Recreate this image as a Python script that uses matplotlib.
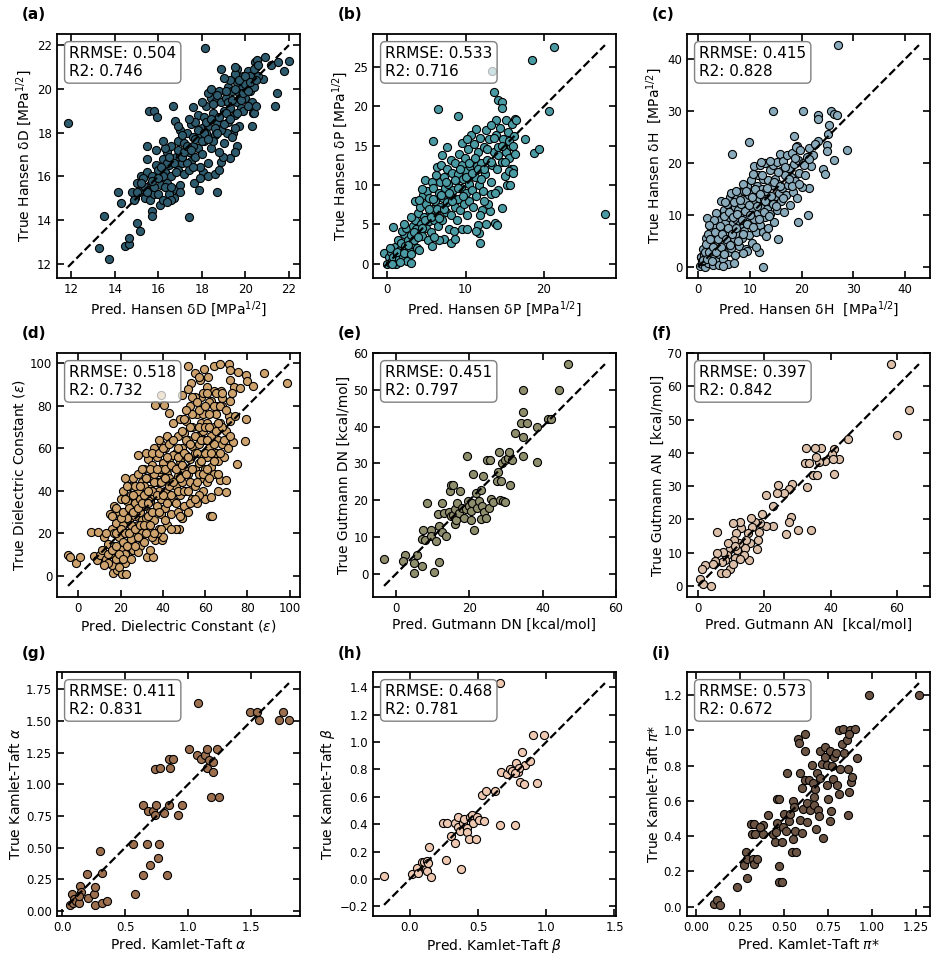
import numpy as np
import matplotlib
matplotlib.use('Agg')
import matplotlib.pyplot as plt

# (pred, true) pairs, one list per panel
hansen_d = [
    (11.85, 18.45), (13.27, 12.73), (13.5, 14.2), (13.72, 12.19), (14.15, 15.28), (14.3, 14.77),
    (14.47, 12.8), (14.63, 12.88), (14.66, 13.19), (14.92, 15.0), (14.81, 15.28), (15.03, 13.84),
    (15.15, 13.5), (15.55, 18.98), (15.8, 18.98), (15.92, 18.72), (15.49, 17.36), (15.46, 16.78),
    (15.73, 14.43), (15.7, 14.2), (16.07, 14.7), (17.42, 14.12), (18.13, 21.85), (16.76, 18.52),
    (16.68, 19.2), (17.57, 19.19), (17.65, 15.7), (17.85, 15.38), (18.04, 16.17), (18.3, 16.0),
    (18.6, 16.1), (18.68, 15.3), (18.9, 20.89), (18.9, 16.64), (19.6, 20.89), (19.52, 20.69),
    (20.45, 21.23), (20.52, 21.3), (20.9, 21.45), (20.83, 20.45), (21.17, 21.07), (21.48, 21.23),
    (22.0, 21.26), (21.78, 20.8), (21.45, 19.8), (21.37, 19.22), (20.37, 18.91), (20.22, 19.22),
    (20.3, 20.76), (19.6, 17.36), (19.3, 16.82), (18.96, 16.9), (19.45, 17.98), (19.14, 18.0),
    (15.1, 15.3), (15.2, 16.0), (15.3, 15.4), (15.4, 15.0), (15.5, 16.2), (15.6, 15.6), (15.6, 14.9),
    (15.8, 15.2), (15.9, 15.9), (15.9, 16.5), (15.3, 15.9), (15.7, 16.0), (16.0, 15.2), (16.0, 16.3),
    (16.1, 15.6), (16.2, 14.9), (16.2, 16.8), (15.0, 15.7), (15.4, 15.5), (15.8, 15.5),
    (16.3, 16.2), (16.4, 15.7), (16.4, 17.1), (16.5, 16.5), (16.6, 16.0), (16.6, 17.4), (16.7, 15.0),
    (16.8, 16.9), (16.8, 15.4), (16.9, 17.6), (16.9, 16.3), (17.0, 17.0), (16.3, 17.3), (16.5, 15.2),
    (16.6, 14.9), (16.7, 16.6), (17.0, 15.6), (17.0, 18.1), (16.2, 16.0), (16.4, 16.6),
    (17.1, 16.6), (17.2, 17.5), (17.2, 16.1), (17.3, 18.0), (17.4, 17.1), (17.5, 16.7), (17.5, 18.4),
    (17.6, 17.8), (17.7, 16.9), (17.8, 18.8), (17.8, 17.3), (17.9, 16.4), (18.0, 18.2), (17.3, 16.6),
    (17.6, 17.4), (17.9, 17.8), (17.1, 17.9), (17.4, 16.3), (17.7, 18.5), (18.0, 17.0),
    (18.1, 18.7), (18.1, 17.6), (18.2, 19.2), (18.3, 18.3), (18.4, 17.3), (18.4, 19.6), (18.5, 18.9),
    (18.6, 17.9), (18.6, 19.4), (18.7, 18.5), (18.8, 17.1), (18.8, 19.9), (18.9, 18.1), (19.0, 19.0),
    (19.0, 17.5), (18.2, 18.0), (18.5, 17.6), (18.7, 19.7), (18.3, 19.8), (18.9, 19.4),
    (19.1, 19.6), (19.2, 18.5), (19.2, 20.1), (19.3, 19.1), (19.4, 17.8), (19.4, 19.9), (19.5, 18.8),
    (19.6, 20.3), (19.6, 19.4), (19.7, 18.3), (19.8, 20.0), (19.8, 19.1), (19.9, 20.6), (20.0, 19.6),
    (20.0, 20.2), (19.3, 20.4), (19.5, 18.2), (19.7, 19.8), (19.9, 19.0), (19.1, 18.9),
    (20.1, 20.8), (20.2, 19.9), (20.3, 20.5), (20.3, 19.4), (20.4, 20.1), (20.4, 18.9), (20.5, 21.0),
    (20.2, 20.6), (20.6, 20.6), (20.1, 19.2),
    (15.2, 15.7), (15.5, 15.3), (15.7, 15.8), (16.0, 15.9), (16.1, 16.4), (16.3, 15.5), (16.5, 16.9),
    (16.6, 15.5), (16.8, 16.2), (16.9, 17.2), (17.1, 16.9), (17.2, 17.1), (17.3, 17.4), (17.5, 17.2),
    (17.6, 16.4), (17.7, 17.7), (17.8, 18.1), (18.0, 17.6), (18.1, 18.0), (18.2, 18.5), (18.3, 17.7),
    (18.4, 18.6), (18.5, 19.3), (18.6, 18.2), (18.7, 18.0), (18.8, 18.7), (19.0, 18.4), (19.1, 19.9),
    (19.2, 19.4), (19.3, 18.6), (19.4, 19.5), (19.5, 20.0), (19.6, 18.9), (19.7, 20.4), (19.8, 19.5),
    (19.9, 19.8), (20.0, 20.6), (20.1, 19.9), (20.2, 20.3), (20.4, 20.9), (20.5, 20.4), (20.6, 21.1),
    (15.9, 17.2), (16.2, 17.6), (16.9, 18.3), (17.4, 18.6), (18.0, 19.4), (18.4, 20.0), (19.0, 20.5),
    (19.5, 21.0), (16.4, 14.8), (17.0, 15.3), (17.9, 15.9), (18.3, 16.6), (18.8, 16.3), (19.5, 17.1),
    (20.3, 18.3), (20.5, 19.2), (15.0, 15.3), (14.9, 14.9),
]

hansen_p = [
    (13.4, 24.45), (18.5, 25.85), (21.3, 27.6), (6.5, 19.7), (9.0, 18.8), (5.8, 15.55), (7.7, 14.9),
    (13.7, 21.8), (14.1, 20.8), (14.6, 20.6), (14.7, 19.8), (15.2, 18.3), (16.3, 18.35), (13.9, 18.3),
    (17.6, 15.9), (18.8, 14.1), (19.4, 14.6), (20.6, 19.4), (27.8, 6.3), (14.6, 7.1), (13.8, 5.2),
    (14.0, 4.9), (11.6, 4.9), (11.7, 3.9), (11.8, 2.7), (11.3, 4.2), (15.3, 10.0), (15.7, 10.0),
    (15.8, 12.1), (14.1, 9.4), (13.2, 8.9), (12.1, 6.8), (13.1, 6.7), (12.6, 5.1), (4.8, 10.6),
    (5.7, 10.4), (0.8, 4.7), (-0.4, 1.4),
    (0.0, 0.0), (0.2, 0.8), (0.3, 0.1), (0.5, 1.5), (0.6, 0.3), (0.8, 0.9), (1.0, 2.1), (1.1, 0.0),
    (1.2, 1.2), (1.4, 3.0), (1.5, 0.6), (1.6, 1.8), (1.8, 2.6), (2.0, 1.0), (2.1, 3.8), (2.3, 2.2),
    (2.5, 0.3), (2.6, 3.0), (2.8, 1.7), (3.0, 3.6), (3.0, 0.1), (0.4, 2.0), (1.9, 4.2), (2.4, 4.5),
    (3.2, 2.5),
    (3.3, 4.8), (3.4, 3.0), (3.5, 8.0), (3.6, 5.6), (3.8, 2.0), (3.9, 6.4), (4.0, 4.0), (4.2, 7.2),
    (4.3, 5.0), (4.5, 3.5), (4.6, 8.8), (4.7, 6.0), (4.9, 4.6), (5.0, 7.6), (5.1, 9.2), (5.2, 3.0),
    (5.3, 5.4), (5.4, 8.4), (5.5, 6.6), (5.6, 4.0), (5.8, 7.0), (5.9, 9.6), (6.0, 5.6), (4.1, 8.1),
    (5.7, 2.2), (3.7, 4.4), (4.4, 9.5),
    (6.1, 8.0), (6.2, 11.3), (6.3, 6.2), (6.4, 12.3), (6.5, 4.8), (6.6, 9.0), (6.7, 7.2), (6.8, 10.4),
    (6.9, 12.6), (7.0, 5.6), (7.1, 8.4), (7.2, 11.0), (7.3, 3.2), (7.4, 9.6), (7.5, 6.6), (7.6, 12.0),
    (7.7, 7.8), (7.8, 10.2), (7.9, 4.4), (8.0, 8.8), (8.1, 13.2), (8.2, 6.2), (8.3, 11.6), (8.4, 9.4),
    (8.5, 4.2), (8.6, 7.2), (8.7, 12.8), (8.8, 10.6), (8.9, 5.6), (9.0, 8.2), (6.6, 3.0), (7.0, 13.8),
    (8.2, 2.6),
    (9.1, 11.4), (9.2, 14.0), (9.3, 6.8), (9.4, 9.6), (9.5, 12.6), (9.6, 4.4), (9.7, 10.8), (9.8, 7.6),
    (9.9, 13.4), (10.0, 9.0), (10.1, 11.8), (10.2, 6.2), (10.3, 14.6), (10.4, 10.2), (10.5, 8.0),
    (10.6, 12.4), (10.7, 16.4), (10.8, 9.4), (10.9, 13.0), (11.0, 7.2), (11.1, 15.2), (11.2, 11.0),
    (11.3, 17.1), (11.4, 8.6), (11.5, 12.4), (11.6, 14.2), (11.7, 10.0), (11.8, 6.2), (11.9, 16.0),
    (12.0, 12.8), (9.5, 15.3), (10.2, 15.8),
    (12.2, 9.2), (12.3, 14.8), (12.5, 11.4), (12.6, 17.0), (12.8, 13.2), (12.9, 7.6), (13.0, 15.8),
    (13.2, 10.4), (13.3, 17.6), (13.4, 12.6), (13.6, 14.2), (13.8, 9.0), (13.9, 16.4), (14.0, 12.0),
    (14.2, 14.9), (14.4, 17.2), (14.6, 13.0), (14.8, 15.8), (15.0, 11.2), (15.2, 14.2), (15.4, 16.8),
    (15.6, 13.4), (15.8, 15.0), (16.0, 12.0), (16.2, 16.2), (16.3, 14.0), (15.9, 17.8), (16.4, 18.3),
    (15.5, 11.8), (16.1, 11.6),
    (0.6, 0.0), (1.3, 1.5), (1.7, 0.2), (2.2, 1.4), (2.7, 2.4), (3.1, 1.2), (3.4, 4.0), (3.9, 3.4),
    (4.4, 4.6), (4.8, 5.6), (5.3, 7.0), (5.6, 6.0), (5.9, 8.2), (6.3, 7.0), (6.6, 5.8), (6.9, 8.8),
    (7.2, 7.0), (7.5, 10.4), (7.9, 9.0), (8.3, 8.0), (8.6, 10.6), (9.0, 9.6), (9.3, 12.0), (9.7, 8.6),
    (10.0, 11.0), (10.4, 12.8), (10.8, 11.6), (11.2, 13.4), (11.6, 12.0), (12.0, 10.8), (12.4, 12.0),
    (12.8, 14.6), (13.3, 13.0), (13.7, 16.0), (14.2, 13.8), (14.6, 15.0), (15.1, 13.0), (15.6, 15.6),
    (16.1, 15.0), (3.0, 6.0), (2.2, 5.0), (4.0, 1.8), (6.0, 3.4), (8.6, 3.2), (10.2, 4.4), (12.4, 8.0),
]

hansen_h = [
    (27.1, 42.7), (14.4, 30.1), (20.2, 30.0), (9.9, 24.0), (6.5, 21.8), (25.7, 30.0), (26.2, 29.4),
    (26.8, 29.2), (23.2, 29.2), (23.1, 28.4), (28.7, 22.5), (26.3, 20.5), (24.1, 18.8), (24.6, 17.9),
    (21.4, 15.1), (21.2, 10.0), (19.4, 8.7), (12.5, 0.0), (15.5, 5.3), (11.7, 2.9), (25.4, 27.4),
    (25.1, 25.5), (24.9, 23.4), (23.1, 24.2), (25.0, 22.3), (18.6, 25.2), (19.2, 23.2), (1.8, 9.4),
    (1.5, 1.3), (0.6, 1.9),
    (0.3, 0.2), (0.5, 2.0), (0.8, 0.5), (1.0, 3.4), (1.2, 1.1), (1.4, 0.0), (1.5, 5.6), (1.7, 2.6),
    (1.9, 0.7), (2.1, 4.2), (2.3, 1.8), (2.5, 7.4), (2.6, 3.2), (2.8, 0.3), (3.0, 5.0), (3.1, 2.0),
    (3.3, 8.0), (3.4, 3.8), (3.6, 1.1), (3.7, 6.2), (3.9, 4.6), (4.0, 0.4), (4.1, 2.5), (2.0, 6.4),
    (1.1, 2.2), (3.5, 10.4), (0.7, 1.1),
    (4.3, 9.0), (4.4, 5.6), (4.6, 3.2), (4.8, 7.4), (4.9, 1.5), (5.0, 11.0), (5.2, 4.6), (5.3, 8.4),
    (5.5, 6.2), (5.6, 12.2), (5.7, 2.8), (5.9, 9.6), (6.0, 5.2), (6.1, 13.4), (6.3, 7.4), (6.4, 3.6),
    (6.5, 10.8), (6.7, 8.4), (6.8, 14.0), (6.9, 5.6), (7.1, 11.6), (7.2, 2.2), (7.4, 9.2), (7.5, 13.4),
    (7.6, 6.4), (7.8, 11.0), (7.9, 4.0), (8.0, 14.4), (4.5, 12.6), (5.8, 0.6), (7.0, 0.8),
    (8.2, 8.2), (8.3, 12.2), (8.5, 5.6), (8.6, 10.2), (8.8, 14.6), (8.9, 7.0), (9.0, 12.8), (9.2, 3.4),
    (9.3, 9.4), (9.5, 15.6), (9.6, 11.4), (9.8, 6.2), (9.9, 13.8), (10.0, 8.4), (10.2, 16.8),
    (10.3, 11.0), (10.5, 4.6), (10.6, 14.2), (10.8, 9.2), (10.9, 19.4), (11.0, 12.6), (11.2, 6.8),
    (11.3, 15.6), (11.5, 10.4), (11.6, 17.6), (11.8, 13.2), (11.9, 8.0), (12.0, 19.6), (8.7, 16.0),
    (9.5, 3.0),
    (12.2, 11.4), (12.3, 15.0), (12.5, 6.8), (12.6, 17.0), (12.8, 13.0), (12.9, 9.6), (13.0, 20.0),
    (13.2, 14.6), (13.3, 11.2), (13.5, 16.8), (13.6, 7.4), (13.8, 13.2), (13.9, 18.6), (14.0, 10.2),
    (14.2, 15.8), (14.4, 12.2), (14.5, 19.6), (14.7, 8.6), (14.8, 17.0), (15.0, 13.6), (15.2, 20.2),
    (15.3, 11.0), (15.5, 16.0), (15.7, 14.2), (15.8, 21.8), (16.0, 12.6), (16.0, 18.4),
    (16.3, 15.2), (16.5, 20.4), (16.6, 10.6), (16.8, 17.6), (17.0, 13.8), (17.2, 21.6), (17.4, 15.8),
    (17.6, 19.0), (17.8, 12.0), (18.0, 17.4), (18.2, 22.0), (18.3, 14.4), (18.5, 19.8), (18.8, 16.6),
    (19.0, 23.0), (19.2, 13.2), (19.4, 20.6), (19.6, 18.0), (19.8, 22.6), (20.0, 15.4), (20.3, 20.0),
    (20.6, 17.6), (21.0, 21.2), (21.4, 22.8), (21.8, 19.4), (22.2, 21.6), (22.6, 23.6),
    (0.9, 1.4), (1.3, 2.8), (1.6, 4.4), (1.8, 1.5), (2.2, 2.9), (2.4, 5.3), (2.7, 1.2), (2.9, 3.9),
    (3.2, 6.8), (3.5, 2.9), (3.8, 5.4), (4.2, 7.9), (4.4, 3.9), (4.7, 6.3), (5.0, 2.4), (5.1, 9.8),
    (5.4, 5.4), (5.7, 7.5), (6.0, 10.6), (6.2, 4.2), (6.5, 6.4), (6.8, 9.6), (7.0, 12.4), (7.3, 7.4),
    (7.6, 10.2), (7.8, 5.0), (8.1, 12.8), (8.4, 9.0), (8.7, 6.4), (9.0, 10.8), (9.2, 14.6), (9.5, 8.2),
    (9.8, 12.0), (10.1, 10.0), (10.4, 13.4), (10.7, 7.6), (11.0, 15.0), (11.4, 11.8), (11.7, 9.2),
    (12.0, 14.0), (12.4, 17.6), (12.7, 10.6), (13.0, 12.6), (13.4, 15.2), (13.7, 9.8), (14.1, 13.6),
    (14.6, 16.4), (15.0, 11.8), (15.4, 18.2), (15.9, 15.6), (16.4, 13.2), (16.9, 19.2), (17.5, 17.0),
    (18.1, 15.6), (18.7, 21.0), (19.5, 16.0), (20.5, 19.6), (21.5, 20.8), (6.3, 14.2), (7.3, 14.6),
    (5.2, 12.4), (3.0, 9.0), (2.2, 8.0), (10.6, 17.8), (12.2, 20.2), (14.0, 20.4), (4.8, 0.2),
    (8.6, 2.6), (11.2, 3.9), (13.2, 6.0),
]

dielectric = [
    (-4.9, 9.8), (-3.8, 8.7), (-1.0, 6.0), (0.6, 8.7), (6.2, 20.6), (9.4, 20.6), (7.3, 9.2), (8.6, 7.4),
    (10.0, 9.8), (16.5, 1.3), (18.1, 2.7), (20.8, 0.5), (22.5, 0.5), (22.1, 6.0), (22.9, 9.5),
    (28.4, 57.0), (32.4, 8.7), (35.2, 8.7), (36.3, 16.6), (39.5, 16.6), (39.2, 85.0), (49.0, 85.0),
    (36.3, 80.2), (40.3, 80.2), (42.7, 76.7), (47.8, 21.8), (49.0, 26.9), (51.9, 98.9), (62.2, 28.2),
    (63.3, 28.2), (69.7, 39.6), (75.2, 52.7), (78.7, 63.6), (79.2, 73.6), (64.1, 98.9), (66.9, 99.7),
    (71.4, 99.7), (71.7, 97.0), (75.6, 96.2), (79.2, 94.5), (80.0, 91.8), (82.7, 89.4), (87.9, 95.4),
    (99.0, 91.0), (72.0, 92.4), (73.7, 88.9), (76.5, 88.6), (72.9, 86.2), (72.0, 82.3), (71.4, 75.2),
    (67.3, 87.0), (68.1, 83.9), (65.4, 79.9), (63.0, 82.3), (64.1, 87.0), (60.9, 89.1), (57.8, 92.0),
    (55.4, 95.7), (59.4, 97.3), (57.0, 93.4), (53.5, 91.0), (61.6, 93.4),
    (11, 12), (12, 18), (13, 8), (14, 15), (15, 29), (15, 10), (16, 22), (16, 5), (17, 33), (17, 14),
    (18, 25), (18, 8), (19, 18), (19, 30), (20, 12), (20, 36), (13, 20), (14, 6), (17, 20), (19, 4),
    (21, 24), (21, 40), (21, 16), (22, 30), (22, 10), (23, 35), (23, 20), (24, 42), (24, 26), (24, 14),
    (25, 31), (25, 38), (26, 22), (26, 46), (26, 12), (27, 28), (27, 34), (27, 18), (28, 40), (28, 24),
    (28, 48), (29, 30), (29, 14), (29, 36), (30, 44), (30, 20), (30, 26), (22, 46), (25, 17), (28, 11),
    (23, 27), (27, 42),
    (31, 33), (31, 50), (31, 16), (32, 39), (32, 27), (33, 46), (33, 22), (33, 55), (34, 35), (34, 41),
    (34, 30), (35, 52), (35, 18), (35, 47), (36, 38), (36, 60), (36, 26), (37, 44), (37, 33), (37, 56),
    (38, 49), (38, 22), (38, 40), (39, 62), (39, 36), (39, 29), (40, 53), (40, 45), (40, 18), (31, 42),
    (32, 58), (34, 12), (36, 48), (38, 64), (33, 28), (35, 40), (37, 20), (39, 50),
    (41, 40), (41, 60), (41, 32), (42, 48), (42, 66), (42, 24), (43, 55), (43, 37), (44, 44), (44, 63),
    (44, 29), (45, 51), (45, 72), (45, 35), (46, 58), (46, 42), (46, 22), (47, 47), (47, 66), (47, 30),
    (48, 54), (48, 38), (48, 74), (49, 60), (49, 44), (50, 50), (50, 33), (50, 67), (43, 46), (45, 57),
    (47, 56), (49, 27), (41, 50), (44, 38),
    (51, 57), (51, 40), (51, 73), (52, 48), (52, 64), (52, 30), (53, 55), (53, 80), (53, 44), (54, 61),
    (54, 36), (54, 70), (55, 50), (55, 58), (55, 42), (56, 66), (56, 76), (56, 34), (57, 53), (57, 62),
    (58, 46), (58, 72), (58, 84), (59, 57), (59, 40), (60, 64), (60, 50), (60, 36), (52, 88), (55, 84),
    (57, 38), (59, 68),
    (61, 56), (61, 72), (61, 44), (62, 60), (62, 82), (63, 51), (63, 66), (64, 70), (64, 48), (65, 58),
    (65, 76), (66, 54), (66, 64), (67, 72), (67, 45), (68, 62), (68, 80), (69, 56), (70, 68), (72, 73),
    (73, 63), (74, 75), (63, 37), (66, 40), (70, 45),
    (12, 5), (14, 10), (16, 12), (16, 28), (18, 14), (18, 20), (18, 32), (19, 10), (20, 22), (20, 27),
    (21, 8), (21, 30), (22, 20), (22, 36), (23, 14), (23, 42), (24, 20), (24, 32), (25, 24), (25, 8),
    (26, 30), (26, 38), (27, 14), (27, 22), (28, 32), (28, 18), (29, 42), (29, 24), (30, 34), (30, 50),
    (31, 24), (31, 38), (32, 20), (32, 46), (33, 34), (33, 40), (34, 24), (34, 50), (35, 30), (35, 58),
    (36, 20), (36, 44), (37, 38), (37, 50), (38, 30), (38, 58), (39, 44), (39, 22), (40, 38), (40, 60),
    (41, 26), (41, 46), (42, 34), (42, 56), (43, 42), (43, 62), (44, 52), (44, 22), (45, 44), (45, 64),
    (46, 34), (46, 50), (47, 40), (47, 60), (48, 46), (48, 28), (49, 52), (49, 68), (50, 40), (50, 58),
    (51, 48), (51, 64), (52, 40), (52, 56), (53, 62), (53, 34), (54, 50), (54, 76), (55, 66), (55, 36),
    (56, 44), (56, 58), (57, 70), (57, 48), (58, 54), (58, 64), (59, 48), (59, 76), (60, 58), (60, 70),
    (61, 50), (61, 64), (62, 46), (62, 70), (63, 58), (64, 62), (64, 54), (65, 68), (66, 48), (67, 58),
    (68, 70), (69, 64), (71, 60), (72, 66),
    (50, 74), (51, 78), (53, 70), (54, 84), (56, 82), (57, 78), (59, 86), (60, 80), (61, 86), (62, 76),
    (64, 80), (65, 86), (66, 72), (67, 80), (68, 86), (70, 78),
]

gutmann_dn = [
    (-3.3, 4.0), (2.5, 5.0), (2.0, 3.4), (4.9, 2.9), (5.6, 5.0), (4.9, 0.2), (7.0, 2.2), (10.4, 0.5),
    (11.6, 3.2), (7.2, 11.8), (7.0, 9.5), (7.9, 9.3), (8.5, 19.3), (9.5, 11.8), (9.5, 10.2), (11.0, 9.0),
    (11.3, 16.3), (11.8, 13.1), (12.6, 19.3), (12.6, 11.3), (13.5, 10.4), (13.1, 16.4), (14.4, 16.9),
    (14.7, 22.5), (15.1, 24.1), (15.6, 24.1), (14.9, 15.6), (15.6, 16.1), (16.0, 17.5), (16.0, 13.4),
    (16.3, 14.7), (16.7, 19.3), (17.2, 16.5), (17.5, 22.5), (18.1, 17.9), (18.5, 15.2), (19.0, 17.5),
    (19.4, 32.0), (19.6, 19.7), (19.9, 18.4), (20.4, 17.0), (20.8, 19.3), (20.4, 14.7), (21.1, 27.0),
    (21.3, 12.0), (21.9, 22.0), (22.2, 17.9), (22.6, 19.7), (23.1, 22.9), (23.3, 14.9), (23.5, 18.4),
    (23.8, 26.6), (24.0, 16.7), (24.6, 15.2), (24.9, 30.9), (25.3, 17.9), (25.5, 30.8), (25.8, 20.2),
    (26.5, 19.5), (27.8, 27.6), (27.5, 25.2), (28.1, 33.1), (28.7, 25.2), (28.4, 20.0), (29.0, 30.0),
    (29.3, 19.9), (29.7, 19.5), (29.7, 30.8), (30.4, 31.5), (30.8, 33.1), (31.0, 24.1), (31.7, 30.8),
    (32.5, 38.2), (34.0, 40.9), (34.6, 50.0), (34.7, 44.0), (34.5, 37.3), (34.5, 32.0), (35.8, 40.9),
    (38.5, 40.0), (38.4, 30.4), (41.5, 42.0), (42.2, 42.0), (44.5, 50.0), (46.9, 57.0),
]

gutmann_an = [
    (58.4, 66.7), (63.8, 53.0), (60.0, 45.5), (45.4, 44.1), (42.6, 38.2), (41.1, 41.2), (40.3, 39.8),
    (40.8, 38.1), (41.1, 33.7), (38.4, 37.5), (36.4, 37.4), (35.6, 38.8), (37.1, 41.5), (35.4, 41.5),
    (32.6, 41.5), (32.3, 36.9), (33.4, 36.9), (34.6, 33.5), (35.8, 33.5), (32.8, 29.6), (34.1, 16.8),
    (30.3, 16.7), (28.2, 20.8), (27.4, 19.1), (26.6, 15.5), (28.3, 30.5), (27.4, 29.2), (26.1, 27.9),
    (23.9, 27.9), (24.1, 30.2), (22.6, 23.9), (22.6, 18.0), (20.6, 27.3), (20.4, 18.0), (19.4, 21.5),
    (18.6, 18.8), (18.4, 16.3), (18.1, 13.8), (17.9, 11.0), (17.1, 19.3), (16.4, 17.8), (16.1, 20.3),
    (15.6, 12.8), (15.4, 7.8), (15.1, 16.0), (14.6, 13.8), (14.1, 11.3), (13.8, 9.3), (13.1, 17.3),
    (12.6, 19.3), (12.4, 12.8), (11.8, 10.8), (11.6, 16.0), (11.2, 8.3), (10.9, 13.8), (10.6, 18.8),
    (9.6, 11.0), (9.1, 13.0), (8.6, 9.3), (8.1, 7.8), (9.6, 5.2), (7.6, 10.2), (7.1, 7.3), (6.8, 3.9),
    (8.4, 3.9), (5.6, 9.8), (5.2, 7.6), (5.6, 16.3), (4.6, 6.7), (2.1, 6.2), (1.1, 5.0), (0.6, 2.2),
    (1.4, 0.7), (3.8, 0.0), (10.6, 6.7), (12.6, 8.2), (11.1, 11.9),
]

kt_alpha = [
    (0.06, 0.05), (0.08, 0.13), (0.095, 0.095), (0.087, 0.063), (0.11, 0.08), (0.13, 0.063),
    (0.145, 0.2), (0.15, 0.15), (0.13, 0.12), (0.2, 0.29), (0.205, 0.1), (0.25, 0.135), (0.26, 0.19),
    (0.263, 0.047), (0.3, 0.47), (0.32, 0.3), (0.32, 0.063), (0.36, 0.08), (0.56, 0.53), (0.58, 0.135),
    (0.64, 0.84), (0.64, 0.28), (0.67, 0.53), (0.68, 0.79), (0.7, 0.36), (0.72, 0.79), (0.74, 1.12),
    (0.745, 0.84), (0.74, 0.76), (0.76, 0.42), (0.766, 0.53), (0.78, 1.13), (0.81, 0.77), (0.83, 0.28),
    (0.845, 0.84), (0.845, 1.2), (0.86, 1.13), (0.88, 1.2), (0.92, 0.76), (0.95, 0.84), (1.01, 1.28),
    (1.08, 1.64), (1.07, 1.23), (1.1, 1.2), (1.13, 1.23), (1.15, 1.28), (1.15, 1.13), (1.165, 1.19),
    (1.18, 0.9), (1.2, 1.18), (1.2, 1.1), (1.23, 1.28), (1.245, 0.9), (1.49, 1.57), (1.55, 1.57),
    (1.56, 1.51), (1.72, 1.51), (1.755, 1.57), (1.8, 1.51),
]

kt_beta = [
    (-0.19, 0.02), (0.017, 0.034), (0.05, 0.076), (0.06, 0.04), (0.09, 0.125), (0.103, 0.125),
    (0.123, 0.13), (0.115, 0.07), (0.127, 0.06), (0.135, 0.113), (0.14, 0.23), (0.152, 0.015),
    (0.262, 0.137), (0.245, 0.41), (0.27, 0.41), (0.3, 0.31), (0.33, 0.26), (0.33, 0.41), (0.35, 0.455),
    (0.355, 0.38), (0.365, 0.35), (0.377, 0.07), (0.39, 0.405), (0.4, 0.435), (0.417, 0.37),
    (0.42, 0.34), (0.434, 0.29), (0.44, 0.455), (0.458, 0.47), (0.466, 0.405), (0.483, 0.29),
    (0.49, 0.455), (0.507, 0.43), (0.54, 0.425), (0.525, 0.61), (0.556, 0.64), (0.625, 0.64),
    (0.66, 1.43), (0.66, 0.395), (0.67, 0.78), (0.71, 0.765), (0.735, 0.805), (0.75, 0.785),
    (0.77, 0.395), (0.78, 0.845), (0.795, 0.78), (0.81, 0.705), (0.82, 0.93), (0.84, 0.695),
    (0.845, 0.83), (0.88, 0.86), (0.905, 1.05), (0.935, 0.7), (0.985, 1.05), (0.8, 0.81), (0.77, 0.77),
]

kt_pi = [
    (0.102, 0.013), (0.12, 0.036), (0.136, 0.01), (0.23, 0.11), (0.29, 0.16), (0.27, 0.235),
    (0.284, 0.31), (0.288, 0.27), (0.32, 0.27), (0.33, 0.24), (0.345, 0.27), (0.316, 0.41),
    (0.335, 0.41), (0.314, 0.47), (0.33, 0.47), (0.38, 0.46), (0.38, 0.41), (0.36, 0.45), (0.41, 0.52),
    (0.435, 0.41), (0.45, 0.365), (0.455, 0.425), (0.458, 0.61), (0.47, 0.61), (0.458, 0.475),
    (0.473, 0.23), (0.468, 0.14), (0.487, 0.14), (0.487, 0.365), (0.492, 0.45), (0.5, 0.525),
    (0.51, 0.43), (0.515, 0.76), (0.525, 0.485), (0.534, 0.525), (0.543, 0.31), (0.55, 0.385),
    (0.56, 0.43), (0.568, 0.31), (0.553, 0.6), (0.557, 0.565), (0.578, 0.95), (0.585, 0.925),
    (0.59, 0.76), (0.59, 0.49), (0.6, 0.42), (0.6, 0.67), (0.61, 0.555), (0.62, 0.98), (0.62, 0.885),
    (0.62, 0.72), (0.63, 0.585), (0.63, 0.48), (0.643, 0.72), (0.648, 0.545), (0.657, 0.805),
    (0.663, 0.7), (0.667, 0.62), (0.672, 0.575), (0.676, 0.665), (0.682, 0.44), (0.686, 0.76),
    (0.695, 0.545), (0.7, 0.515), (0.705, 0.88), (0.705, 0.73), (0.714, 0.81), (0.72, 0.39),
    (0.73, 0.905), (0.733, 0.85), (0.742, 0.805), (0.746, 0.69), (0.752, 0.61), (0.758, 0.885),
    (0.761, 0.485), (0.765, 0.54), (0.773, 0.8), (0.78, 0.725), (0.784, 0.85), (0.795, 0.87),
    (0.8, 0.69), (0.81, 0.64), (0.81, 1.0), (0.818, 0.78), (0.833, 1.005), (0.828, 0.92), (0.84, 0.87),
    (0.856, 0.945), (0.864, 0.52), (0.867, 0.65), (0.866, 0.78), (0.875, 1.0), (0.88, 0.705),
    (0.885, 0.735), (0.903, 1.005), (0.917, 0.84), (0.98, 1.2), (1.267, 1.2), (0.87, 0.98),
]

panels = [hansen_d, hansen_p, hansen_h, dielectric, gutmann_dn, gutmann_an, kt_alpha, kt_beta, kt_pi]
letters = ['(a)', '(b)', '(c)', '(d)', '(e)', '(f)', '(g)', '(h)', '(i)']
rrmse = [0.504, 0.533, 0.415, 0.518, 0.451, 0.397, 0.411, 0.468, 0.573]
r2 = [0.746, 0.716, 0.828, 0.732, 0.797, 0.842, 0.831, 0.781, 0.672]
colors = ['#2d5b6d', '#4a9aa4', '#88aabb', '#cda26c', '#8e8d6c', '#dcbfa8', '#9c6f4f', '#efc8b2', '#6b5444']
xlabels = ['Pred. Hansen δD [MPa$^{1/2}$]', 'Pred. Hansen δP [MPa$^{1/2}$]',
           'Pred. Hansen δH  [MPa$^{1/2}$]', 'Pred. Dielectric Constant ($\\varepsilon$)',
           'Pred. Gutmann DN [kcal/mol]', 'Pred. Gutmann AN  [kcal/mol]',
           'Pred. Kamlet-Taft $\\alpha$', 'Pred. Kamlet-Taft $\\beta$', 'Pred. Kamlet-Taft $\\pi$*']
ylabels = ['True Hansen δD [MPa$^{1/2}$]', 'True Hansen δP [MPa$^{1/2}$]',
           'True Hansen δH  [MPa$^{1/2}$]', 'True Dielectric Constant ($\\varepsilon$)',
           'True Gutmann DN [kcal/mol]', 'True Gutmann AN  [kcal/mol]',
           'True Kamlet-Taft $\\alpha$', 'True Kamlet-Taft $\\beta$', 'True Kamlet-Taft $\\pi$*']
xticks = [[12, 14, 16, 18, 20, 22], [0, 10, 20], [0, 10, 20, 30, 40], [0, 20, 40, 60, 80, 100],
          [0, 20, 40, 60], [0, 20, 40, 60], [0.0, 0.5, 1.0, 1.5], [0.0, 0.5, 1.0, 1.5],
          [0.0, 0.25, 0.5, 0.75, 1.0, 1.25]]
yticks = [[12, 14, 16, 18, 20, 22], [0, 5, 10, 15, 20, 25], [0, 10, 20, 30, 40],
          [0, 20, 40, 60, 80, 100], [0, 10, 20, 30, 40, 50, 60], [0, 10, 20, 30, 40, 50, 60, 70],
          [0.0, 0.25, 0.5, 0.75, 1.0, 1.25, 1.5, 1.75], [-0.2, 0.0, 0.2, 0.4, 0.6, 0.8, 1.0, 1.2, 1.4],
          [0.0, 0.2, 0.4, 0.6, 0.8, 1.0, 1.2]]

W, H = 937, 955
col_left = [57, 373, 687]
row_top = [34, 353, 672]
aw, ah = 243, 244

fig = plt.figure(figsize=(W / 100, H / 100), dpi=100)

for i, pts in enumerate(panels):
    r, c = divmod(i, 3)
    ax = fig.add_axes([col_left[c] / W, 1 - (row_top[r] + ah) / H, aw / W, ah / H])
    pts = np.array(pts, dtype=float)
    x, y = pts[:, 0], pts[:, 1]
    ax.scatter(x, y, s=34, c=colors[i], edgecolors='black', linewidths=0.8, zorder=2)
    lo = min(x.min(), y.min())
    hi = max(x.max(), y.max())
    ax.plot([lo, hi], [lo, hi], 'k--', lw=1.6, zorder=3)
    pad = 0.05 * (hi - lo)
    ax.set_xlim(lo - pad, hi + pad + 1e-9)
    ax.set_ylim(lo - pad, hi + pad + 1e-9)
    ax.set_xticks(xticks[i])
    ax.set_yticks(yticks[i])
    ax.tick_params(direction='in', top=True, right=True, length=5, width=1.2, labelsize=8.5)
    for sp in ax.spines.values():
        sp.set_linewidth(1.3)
    ax.set_xlabel(xlabels[i], fontsize=10, labelpad=2)
    ax.set_ylabel(ylabels[i], fontsize=10, labelpad=2)
    ax.text(0.05, 0.95, 'RRMSE: %.3f\nR2: %.3f' % (rrmse[i], r2[i]), transform=ax.transAxes,
            fontsize=11, va='top', ha='left', zorder=5,
            bbox=dict(boxstyle='round', facecolor=(1, 1, 1, 0.72), edgecolor='gray'))
    ax.text(-35 / aw, 1 + 19 / ah, letters[i], transform=ax.transAxes, fontsize=11,
            fontweight='bold', ha='left', va='center')

fig.savefig('out.png', dpi=100)
